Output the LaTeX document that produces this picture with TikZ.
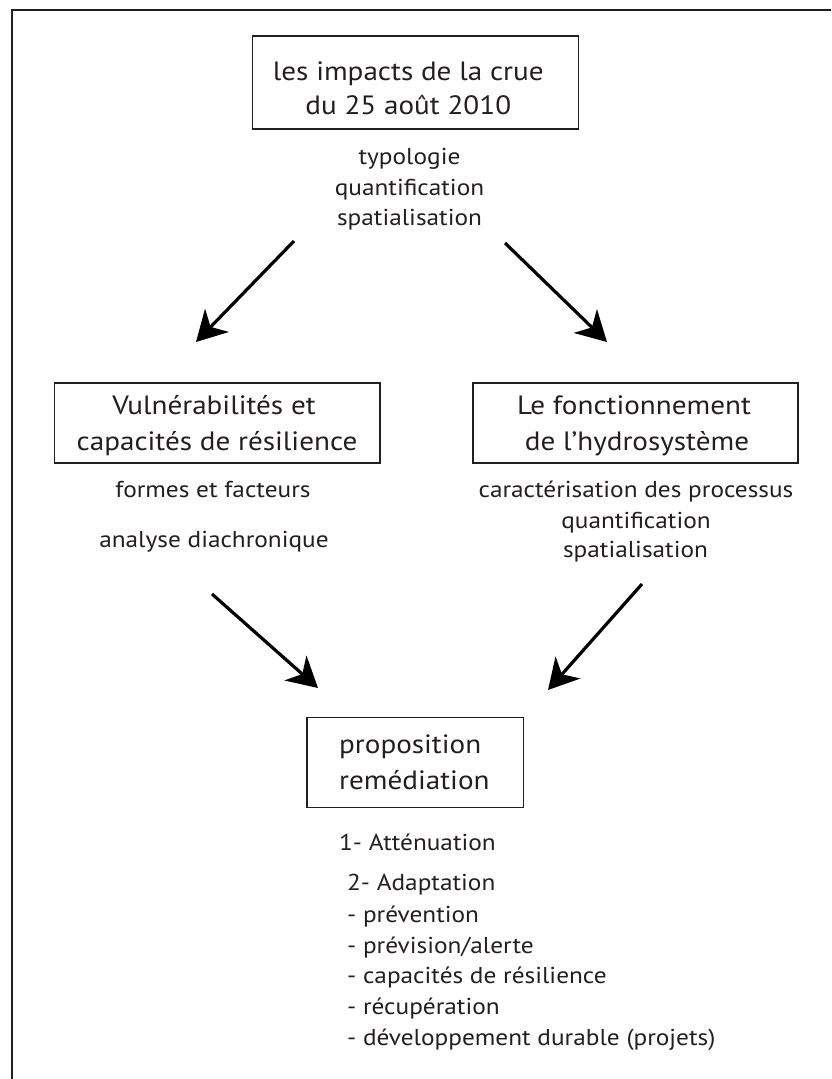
\documentclass[tikz,border=0pt]{standalone}
\usepackage{fontspec}
\setmainfont{PT Sans}[FakeStretch=1.1]
\usetikzlibrary{arrows.meta}
\definecolor{ink}{HTML}{231F20}
\tikzset{
  frame/.style={line width=2pt, draw=ink},
  boxed/.style={draw=ink, line width=1.5pt, inner sep=0pt},
  big/.style={font=\fontsize{26.5}{32}\selectfont, text=ink, inner sep=0pt, anchor=base},
  bigl/.style={big, anchor=base west},
  small/.style={font=\fontsize{23}{26}\selectfont, text=ink, inner sep=0pt, anchor=base},
  smalll/.style={small, anchor=base west},
  arr/.style={line width=3.2pt, draw=black, -{Stealth[length=30pt, width=33pt, inset=9pt]}}
}
\begin{document}
\begin{tikzpicture}[x=1pt, y=-1pt]
\useasboundingbox (0,0) rectangle (831,1079);
\fill[white] (0,0) rectangle (831,1079);
\draw[frame] (831,10) -- (11.7,10) -- (11.7,1079);
% boxes
\node[boxed, minimum width=326pt, minimum height=93.3pt] (top) at (415.3,82.4) {};
\node[boxed, minimum width=325.4pt, minimum height=80pt] (vul) at (217.3,423) {};
\node[boxed, minimum width=325pt, minimum height=80pt] (fon) at (635.5,423) {};
\node[boxed, minimum width=216.6pt, minimum height=90pt] (pro) at (415.3,762.7) {};
% top texts
\node[big] (t1) at (408.3,80) {les impacts de la crue};
\node[big] (t2) at (408.3,114) {du 25 août 2010};
\node[small] (t3) at (409.5,164) {typologie};
\node[small] (t4) at (409.5,195.3) {quantification};
\node[small] (t5) at (409.5,225) {spatialisation};
% left middle
\node[big] (v1) at (214,414) {Vulnérabilités et};
\node[big] (v2) at (217,450) {capacités de résilience};
\node[small] (v3) at (213,497) {formes et facteurs};
\node[small] (v4) at (214,547) {analyse diachronique};
% right middle
\node[big] (f1) at (634,414) {Le fonctionnement};
\node[big] (f2) at (637,450) {de l’hydrosystème};
\node[small] (f3) at (636,497) {caractérisation des processus};
\node[small] (f4) at (636,528) {quantification};
\node[small] (f5) at (635.5,557) {spatialisation};
% bottom
\node[bigl] (p1) at (339,753) {proposition};
\node[bigl] (p2) at (339,789) {remédiation};
\node[smalll] (l1) at (339,850) {1- Atténuation};
\node[smalll] (l2) at (347,890) {2- Adaptation};
\node[smalll] (l3) at (347,922) {- prévention};
\node[smalll] (l4) at (347,953) {- prévision/alerte};
\node[smalll] (l5) at (347,983) {- capacités de résilience};
\node[smalll] (l6) at (347,1014) {- récupération};
\node[smalll] (l7) at (347,1045) {- développement durable (projets)};
% arrows
\coordinate (a1s) at (294,241); \coordinate (a1e) at (196,342);
\coordinate (a2s) at (505,243); \coordinate (a2e) at (607,342);
\coordinate (a3s) at (212,594); \coordinate (a3e) at (318,688);
\coordinate (a4s) at (642,584); \coordinate (a4e) at (548,690);
\draw[arr] (a1s) -- (a1e);
\draw[arr] (a2s) -- (a2e);
\draw[arr] (a3s) -- (a3e);
\draw[arr] (a4s) -- (a4e);
\end{tikzpicture}
\end{document}
